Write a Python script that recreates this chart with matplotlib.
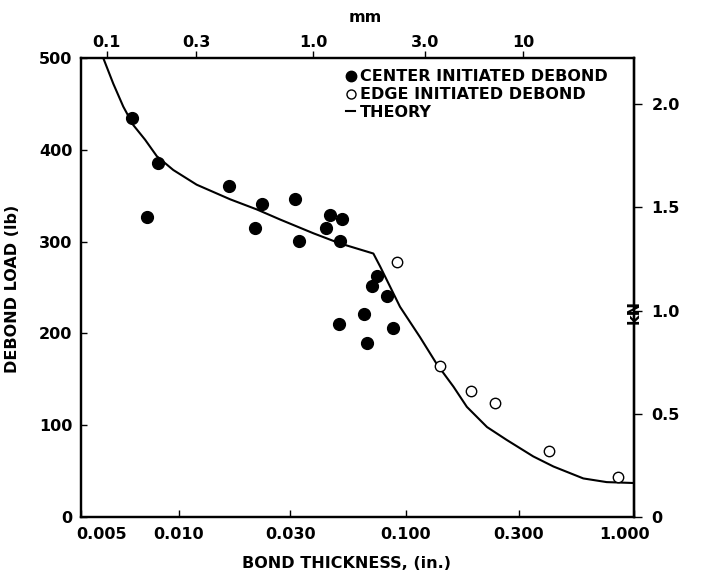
import numpy as np
import matplotlib.pyplot as plt
from matplotlib.lines import Line2D
from matplotlib.transforms import ScaledTranslation

# =============================================================================
# Data
# =============================================================================
# center initiated debond (filled circles)
center_in = [0.0072, 0.0086, 0.0080, 0.0164, 0.0227, 0.0212, 0.0316, 0.0329,
             0.0454, 0.0518, 0.0435, 0.0503, 0.0741, 0.0703, 0.0824, 0.0647,
             0.0502, 0.0878, 0.0669]
center_lb = [435, 386, 327, 361, 341, 315, 346, 301, 329, 325, 315, 301,
             263, 252, 241, 221, 210, 206, 190]

# edge initiated debond (open circles)
edge_in = [0.0918, 0.140, 0.188, 0.238, 0.412, 0.843]
edge_lb = [278, 165, 137, 124, 72, 44]

# theory curve
theory_in = [0.00586, 0.00629, 0.00675, 0.00724, 0.00787, 0.00855, 0.0096,
             0.0119, 0.0166, 0.0216, 0.0272, 0.0383, 0.0505, 0.0715, 0.0767,
             0.0944, 0.115, 0.135, 0.159, 0.181, 0.220, 0.266, 0.348, 0.430,
             0.588, 0.751, 1.0]
theory_lb = [500, 472, 447, 427, 411, 393, 378, 362, 346, 335, 324, 309, 298,
             287, 273, 229, 196, 167, 142, 120, 98, 84, 66, 55, 42, 38, 37]

in_ticks = [0.005, 0.010, 0.030, 0.100, 0.300, 1.000]
in_labels = ['0.005', '0.010', '0.030', '0.100', '0.300', '1.000']
mm_ticks = [0.1, 0.3, 1.0, 3.0, 10.0]
mm_labels = ['0.1', '0.3', '1.0', '3.0', '10']
lb_ticks = [0, 100, 200, 300, 400, 500]
kn_ticks = [0, 0.5, 1.0, 1.5, 2.0]
kn_labels = ['0', '0.5', '1.0', '1.5', '2.0']

LB_TO_KN = 0.004448

# The printed thickness axes are not true log scales, the ticks are drawn
# at these fractions of the frame width. Calibrate a piecewise log scale.
in_tick_frac = [0.0, 0.1777, 0.3784, 0.5870, 0.7922, 1.0]
mm_tick_frac = [0.0466, 0.2084, 0.4198, 0.6223, 0.7994]


def piecewise_log(ticks, frac):
    lt = np.log10(ticks)
    fr = np.asarray(frac, float)
    s0 = (fr[1] - fr[0]) / (lt[1] - lt[0])
    s1 = (fr[-1] - fr[-2]) / (lt[-1] - lt[-2])
    lt_ext = np.r_[lt[0] - 10, lt, lt[-1] + 10]
    fr_ext = np.r_[fr[0] - 10 * s0, fr, fr[-1] + 10 * s1]

    def fwd(v):
        v = np.clip(np.asarray(v, float), 1e-300, None)
        return np.interp(np.log10(v), lt_ext, fr_ext)

    def inv(u):
        return 10 ** np.interp(np.asarray(u, float), fr_ext, lt_ext)

    return fwd, inv


in_fwd, in_inv = piecewise_log(in_ticks, in_tick_frac)
mm_fwd, mm_inv = piecewise_log(mm_ticks, mm_tick_frac)

# =============================================================================
# Plot
# =============================================================================
plt.rcParams['font.family'] = ['DejaVu Sans']
plt.rcParams['font.weight'] = 'bold'
plt.rcParams['font.size'] = 11.5
plt.rcParams['axes.labelweight'] = 'bold'

fig = plt.figure(figsize=(7.10, 5.77), dpi=100)
ax = fig.add_axes([0.1137, 0.104, 0.7793, 0.7955])

ax.set_xscale('function', functions=(in_fwd, in_inv))
ax.set_xlim(0.005, 1.0)
ax.set_ylim(0, 500)

ax.plot(theory_in, theory_lb, color='k', lw=1.5, zorder=2)
ax.plot(center_in, center_lb, ls='none', marker='o', ms=8.5,
        mfc='k', mec='k', zorder=3)
ax.plot(edge_in, edge_lb, ls='none', marker='o', ms=7.5,
        mfc='white', mec='k', mew=1.0, zorder=3)

ax.set_xticks(in_ticks, in_labels)
ax.set_yticks(lb_ticks, [str(v) for v in lb_ticks])
ax.tick_params(axis='x', direction='in', length=5, width=1, pad=7)
ax.tick_params(axis='y', direction='in', length=4.5, width=1, pad=6)

# first/last bottom labels are nudged in the original
xl = ax.get_xticklabels()
xl[0].set_transform(xl[0].get_transform() +
                    ScaledTranslation(21 / 100, 0, fig.dpi_scale_trans))
xl[-1].set_transform(xl[-1].get_transform() +
                     ScaledTranslation(-10 / 100, 0, fig.dpi_scale_trans))

ax.set_xlabel('BOND THICKNESS, (in.)', va='center')
ax.xaxis.set_label_coords(0.481, -0.1024)
ax.set_ylabel('DEBOND LOAD (lb)', va='center', ha='center')
ax.yaxis.set_label_coords(-0.124, 0.496)

# top axis in mm
top = ax.twiny()
top.set_xscale('function', functions=(mm_fwd, mm_inv))
top.set_xlim(mm_inv(0.0), mm_inv(1.0))
top.set_xticks(mm_ticks, mm_labels)
top.tick_params(axis='x', direction='out', length=5, width=1, pad=1)
top.set_xlabel('mm', va='center')
top.xaxis.set_label_coords(0.514, 1.088)

# right axis in kN
right = ax.secondary_yaxis('right', functions=(lambda lb: lb * LB_TO_KN,
                                               lambda kn: kn / LB_TO_KN))
right.set_yticks(kn_ticks, kn_labels)
right.tick_params(axis='y', direction='out', length=5.5, width=1, pad=7)
right.set_ylabel('kN', va='center', ha='center')
right.yaxis.set_label_coords(1.121, 0.447)

for a in (ax, top, right):
    for sp in a.spines.values():
        sp.set_linewidth(1.6)

handles = [
    Line2D([], [], ls='none', marker='o', ms=7.5, mfc='k', mec='k'),
    Line2D([], [], ls='none', marker='o', ms=6.5, mfc='white', mec='k', mew=1.0),
    Line2D([], [], color='k', lw=1.5),
]
labels = ['CENTER INITIATED DEBOND', 'EDGE INITIATED DEBOND', 'THEORY']
ax.legend(handles, labels, loc='upper left', bbox_to_anchor=(0.479, 0.975),
          frameon=False, handlelength=0.6, handletextpad=0.3,
          labelspacing=0.17, borderpad=0, borderaxespad=0,
          prop=dict(weight='bold', size=11.5))

fig.savefig('out.png', dpi=100)
